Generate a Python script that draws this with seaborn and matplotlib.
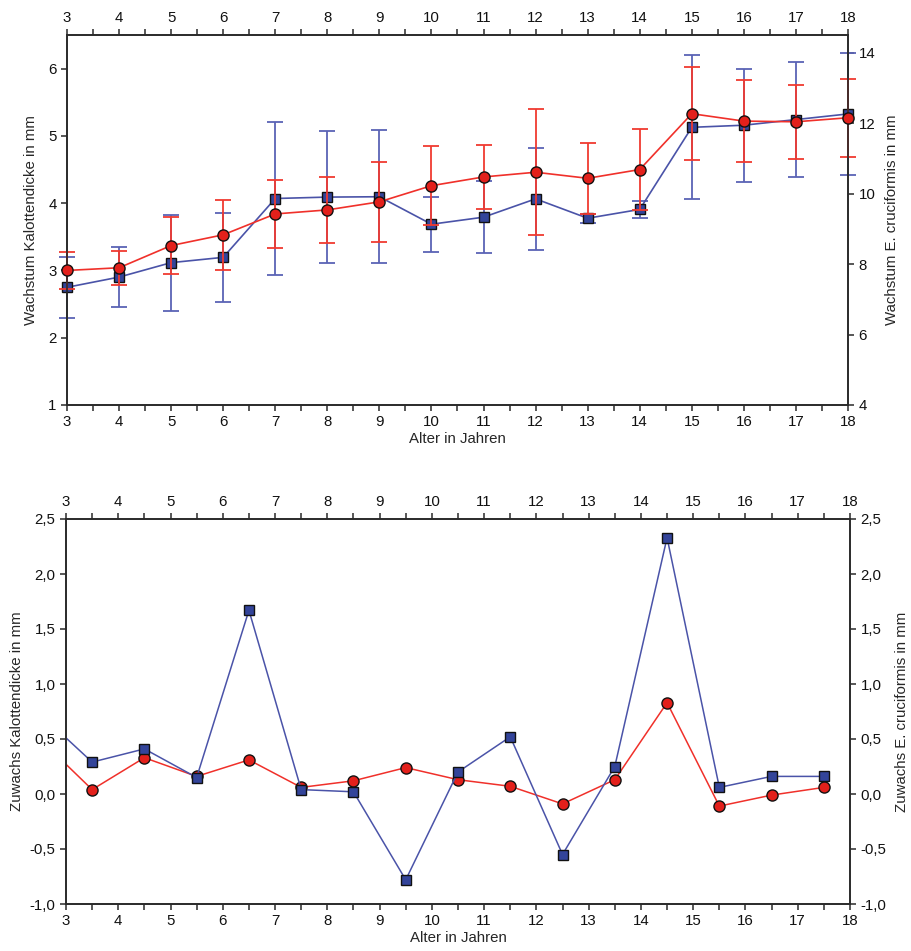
import numpy as np
import pandas as pd
import matplotlib
matplotlib.use("Agg")
import matplotlib.pyplot as plt
from matplotlib.ticker import MultipleLocator, FixedLocator, FuncFormatter
import seaborn as sns

# ---------------- data ----------------
alter = [3, 4, 5, 6, 7, 8, 9, 10, 11, 12, 13, 14, 15, 16, 17, 18]
kalotte_mean = [3.00, 3.04, 3.37, 3.53, 3.84, 3.90, 4.02, 4.26, 4.39, 4.46, 4.37, 4.50, 5.33, 5.22, 5.21, 5.27]
kalotte_sd = [0.27, 0.25, 0.43, 0.52, 0.51, 0.49, 0.59, 0.59, 0.48, 0.94, 0.53, 0.60, 0.69, 0.61, 0.55, 0.58]
cruci_mean = [7.34, 7.63, 8.04, 8.19, 9.86, 9.90, 9.91, 9.13, 9.33, 9.85, 9.30, 9.55, 11.88, 11.94, 12.10, 12.26]
cruci_sd = [0.87, 0.85, 1.36, 1.26, 2.16, 1.87, 1.88, 0.78, 1.02, 1.45, 0.13, 0.25, 2.04, 1.60, 1.62, 1.72]

alter_mid = [2.5, 3.5, 4.5, 5.5, 6.5, 7.5, 8.5, 9.5, 10.5, 11.5, 12.5, 13.5, 14.5, 15.5, 16.5, 17.5]
zuwachs_kalotte = [0.50, 0.04, 0.33, 0.16, 0.31, 0.06, 0.12, 0.24, 0.13, 0.07, -0.09, 0.13, 0.83, -0.11, -0.01, 0.06]
zuwachs_cruci = [0.73, 0.29, 0.41, 0.15, 1.67, 0.04, 0.02, -0.78, 0.20, 0.52, -0.55, 0.25, 2.33, 0.06, 0.16, 0.16]

xticks = list(range(3, 19))
left_ticks_top = [1, 2, 3, 4, 5, 6]
right_ticks_top = [4, 6, 8, 10, 12, 14]
ticks_bottom = [-1.0, -0.5, 0.0, 0.5, 1.0, 1.5, 2.0, 2.5]

# ---------------- style ----------------
sns.set_style("ticks")
plt.rcParams["font.family"] = ["Liberation Sans", "DejaVu Sans"]
plt.rcParams["font.size"] = 10.8

FS = 10.8
RED_LINE = "#f0302a"
RED_FACE = "#e3201b"
BLUE_LINE = "#4a53a8"
BLUE_FACE = "#33449a"
SPINE = "#2a2a2a"

fig = plt.figure(figsize=(9.11, 9.51), dpi=100)
ax1 = fig.add_axes([67 / 911, 1 - 405 / 951, (848 - 67) / 911, 370 / 951])
ax2 = fig.add_axes([66 / 911, 1 - 904 / 951, (850 - 66) / 911, 385 / 951])

comma = FuncFormatter(lambda v, p: f"{v:.1f}".replace(".", ","))


def style_axes(ax):
    for s in ax.spines.values():
        s.set_visible(True)
        s.set_color(SPINE)
        s.set_linewidth(1.2)
    ax.tick_params(which="both", direction="out", color=SPINE, labelsize=FS,
                   labelcolor="#111111")
    ax.tick_params(which="major", length=4, width=1.1)
    ax.tick_params(which="minor", length=4, width=1.1)


def unclip(container):
    for art in container.lines:
        if art is None:
            continue
        if isinstance(art, (tuple, list)):
            for a in art:
                a.set_clip_on(False)
        else:
            art.set_clip_on(False)
    for coll in container.lines[2]:
        coll.set_clip_on(False)


# ---------------- top chart ----------------
df_k = pd.DataFrame({"Alter": alter, "val": kalotte_mean})
df_c = pd.DataFrame({"Alter": alter, "val": cruci_mean})

ax1r = ax1.twinx()

eb_c = ax1r.errorbar(alter, cruci_mean, yerr=cruci_sd, fmt="none", ecolor="#5a63b5",
                     elinewidth=1.3, capsize=6, capthick=1.3, zorder=1)
unclip(eb_c)
sns.lineplot(data=df_c, x="Alter", y="val", ax=ax1r, color=BLUE_LINE, lw=1.2,
             marker="s", markersize=7, markerfacecolor=BLUE_FACE,
             markeredgecolor="#111111", markeredgewidth=1.0, errorbar=None,
             zorder=3, clip_on=False)

eb_k = ax1.errorbar(alter, kalotte_mean, yerr=kalotte_sd, fmt="none", ecolor="#f03a30",
                    elinewidth=1.3, capsize=6, capthick=1.3, zorder=1)
unclip(eb_k)
sns.lineplot(data=df_k, x="Alter", y="val", ax=ax1, color=RED_LINE, lw=1.2,
             marker="o", markersize=8, markerfacecolor=RED_FACE,
             markeredgecolor="#111111", markeredgewidth=1.0, errorbar=None,
             zorder=3, clip_on=False)

ax1.set_zorder(ax1r.get_zorder() + 1)
ax1.patch.set_visible(False)

ax1.set_xlim(3, 18)
ax1.set_ylim(1, 6.5)
ax1r.set_ylim(4, 14.5)
ax1.xaxis.set_major_locator(FixedLocator(xticks))
ax1.xaxis.set_minor_locator(MultipleLocator(0.5))
ax1.yaxis.set_major_locator(FixedLocator(left_ticks_top))
ax1r.yaxis.set_major_locator(FixedLocator(right_ticks_top))
ax1.tick_params(axis="x", which="both", top=True, labeltop=True)
style_axes(ax1)
style_axes(ax1r)
ax1.tick_params(axis="y", which="minor", left=False)
ax1.set_xlabel("Alter in Jahren", fontsize=FS, labelpad=2)
ax1.set_ylabel("Wachstum Kalottendicke in mm", fontsize=FS, labelpad=7)
ax1r.set_ylabel("Wachstum E. cruciformis in mm", fontsize=FS, labelpad=7)

# ---------------- bottom chart ----------------
df_zk = pd.DataFrame({"Alter": alter_mid, "val": zuwachs_kalotte})
df_zc = pd.DataFrame({"Alter": alter_mid, "val": zuwachs_cruci})

ax2r = ax2.twinx()
sns.lineplot(data=df_zk, x="Alter", y="val", ax=ax2, color=RED_LINE, lw=1.1,
             marker="o", markersize=8, markerfacecolor=RED_FACE,
             markeredgecolor="#111111", markeredgewidth=1.0, errorbar=None)
sns.lineplot(data=df_zc, x="Alter", y="val", ax=ax2r, color=BLUE_LINE, lw=1.1,
             marker="s", markersize=7, markerfacecolor=BLUE_FACE,
             markeredgecolor="#111111", markeredgewidth=1.0, errorbar=None)

ax2.set_xlim(3, 18)
ax2.set_ylim(-1.0, 2.5)
ax2r.set_ylim(-1.0, 2.5)
ax2.xaxis.set_major_locator(FixedLocator(xticks))
ax2.xaxis.set_minor_locator(MultipleLocator(0.5))
for a in (ax2, ax2r):
    a.yaxis.set_major_locator(FixedLocator(ticks_bottom))
    a.yaxis.set_major_formatter(comma)
ax2.tick_params(axis="x", which="both", top=True, labeltop=True)
style_axes(ax2)
style_axes(ax2r)
ax2.tick_params(axis="y", which="minor", left=False)
ax2.set_xlabel("Alter in Jahren", fontsize=FS, labelpad=2)
ax2.set_ylabel("Zuwachs Kalottendicke in mm", fontsize=FS, labelpad=4)
ax2r.set_ylabel("Zuwachs E. cruciformis in mm", fontsize=FS, labelpad=6)

fig.savefig("out.png", dpi=100)
